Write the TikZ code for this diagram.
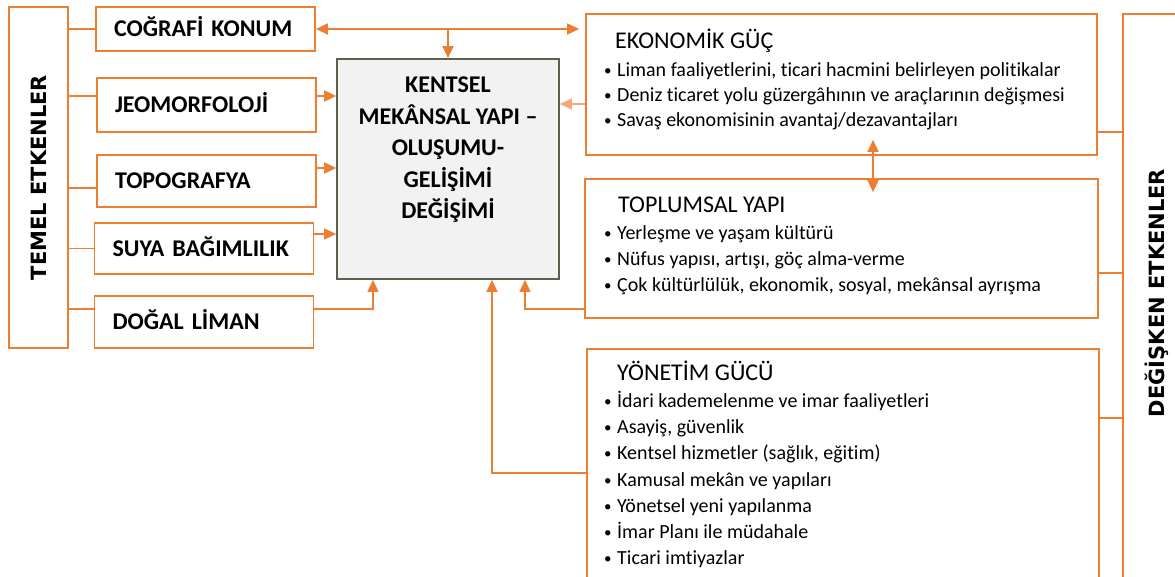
\documentclass[tikz,border=0pt]{standalone}
\usepackage{fontspec}
\setmainfont{Carlito}[Ligatures=CommonOff]
\newfontfamily\sidefont{DejaVu Sans}
\usetikzlibrary{arrows.meta,calc}
\definecolor{kmorange}{RGB}{237,125,49}
\definecolor{kmlight}{RGB}{244,170,120}
\definecolor{kmgray}{RGB}{242,242,242}
\definecolor{kmedge}{RGB}{95,95,80}
\newcommand\kmbul{\makebox[14pt][l]{\hspace{1pt}\raisebox{1pt}{\fontsize{15}{15}\selectfont\textbullet}}}
\tikzset{
  obox/.style={rectangle, draw=kmorange, line width=1.7pt, fill=white, inner sep=0pt},
  lbox/.style={obox, align=left, minimum width=219pt, text width=183pt, inner xsep=18pt,
               font=\bfseries\fontsize{24}{28}\selectfont, text height=15.5pt, text depth=0pt},
  sidetxt/.style={font=\sidefont\bfseries\fontsize{21}{24}\selectfont, text height=15pt, text depth=0pt},
  ktxt/.style={align=center, font=\bfseries\fontsize{24}{31.5}\selectfont},
  otitle/.style={anchor=west, inner sep=0pt, font=\fontsize{24}{28}\selectfont, text height=18pt, text depth=3pt},
  oitem/.style={anchor=west, inner sep=0pt, font=\fontsize{20}{24}\selectfont, text height=14pt, text depth=5pt},
  link/.style={draw=kmorange, line width=1.6pt},
  arr/.style={link, -{Triangle[length=12pt,width=11pt]}},
  arrb/.style={link, {Triangle[length=12pt,width=11pt]}-{Triangle[length=12pt,width=11pt]}},
}
\begin{document}
\begin{tikzpicture}[x=1pt,y=-1pt]
\useasboundingbox (0,0) rectangle (1175,577);
        \node[obox, sidetxt, rotate=90, minimum width=341pt, minimum height=59pt] (temel) at (38.5,177.5) {TEMEL ETKENLER};
        \node[lbox, minimum height=44pt] (cografi) at (205.5,29) {COĞRAFİ KONUM};
        \node[lbox, minimum height=54pt] (jeomorf) at (206.5,105) {JEOMORFOLOJİ};
        \node[lbox, minimum height=52pt] (topog) at (206.5,181) {TOPOGRAFYA};
        \node[lbox, minimum height=51pt, minimum width=218pt] (suya) at (204,248.5) {SUYA BAĞIMLILIK};
        \node[lbox, minimum height=52pt, minimum width=218pt] (liman) at (204,322) {DOĞAL LİMAN};
        \node[obox, draw=kmedge, fill=kmgray, minimum width=222pt, minimum height=220pt] (kentsel) at (448,169) {};
        \node[ktxt] (kentsel-t) at (448,150) {KENTSEL\\MEKÂNSAL YAPI –\\OLUŞUMU-\\GELİŞİMİ\\DEĞİŞİMİ};
        \node[obox, minimum width=511pt, minimum height=141pt] (ekon) at (841.5,84.5) {};
        \node[obox, minimum width=513pt, minimum height=139pt] (toplum) at (841.5,248.5) {};
        \node[obox, minimum width=512pt, minimum height=251pt] (yonetim) at (843,474.5) {};
        \node[obox, minimum width=77pt, minimum height=586pt] (degisken) at (1161.5,307) {};
        \node[sidetxt, rotate=90] (degisken-t) at (1157,293) {DEĞİŞKEN ETKENLER};
        \node[otitle] (ekon-t) at (615,41) {EKONOMİK GÜÇ};
        \foreach \txt [count=\i from 0] in {{Liman faaliyetlerini, ticari hacmini belirleyen politikalar},
            {Deniz ticaret yolu güzergâhının ve araçlarının değişmesi},
            {Savaş ekonomisinin avantaj/dezavantajları}}
          \node[oitem] (ekon-\i) at (603,{72+25*\i}) {\kmbul\txt};
        \node[otitle] (toplum-t) at (618,205) {TOPLUMSAL YAPI};
        \foreach \txt [count=\i from 0] in {{Yerleşme ve yaşam kültürü},
            {Nüfus yapısı, artışı, göç alma-verme},
            {Çok kültürlülük, ekonomik, sosyal, mekânsal ayrışma}}
          \node[oitem] (toplum-\i) at (603,{235+26*\i}) {\kmbul\txt};
        \node[otitle] (yonetim-t) at (617,373) {YÖNETİM GÜCÜ};
        \foreach \txt [count=\i from 0] in {{İdari kademelenme ve imar faaliyetleri},
            {Asayiş, güvenlik},
            {Kentsel hizmetler (sağlık, eğitim)},
            {Kamusal mekân ve yapıları},
            {Yönetsel yeni yapılanma},
            {İmar Planı ile müdahale},
            {Ticari imtiyazlar}}
          \node[oitem] (yonetim-\i) at (603,{403+26.2*\i}) {\kmbul\txt};
        \draw[link] (cografi.west -| temel.south) -- (cografi.west);
        \draw[link] ([yshift=9pt]jeomorf.west -| temel.south) -- ([yshift=9pt]jeomorf.west);
        \draw[link] ([yshift=-7pt]topog.west -| temel.south) -- ([yshift=-7pt]topog.west);
        \draw[link] (suya.west -| temel.south) -- (suya.west);
        \draw[link] ([yshift=13pt]liman.west -| temel.south) -- ([yshift=13pt]liman.west);
        \draw[arr] ([yshift=9pt]jeomorf.east) -- ([yshift=9pt]jeomorf.east -| kentsel.west);
        \draw[arr] ([yshift=13pt]topog.east) -- ([yshift=13pt]topog.east -| kentsel.west);
        \draw[arr] ([yshift=14.5pt]suya.east) -- ([yshift=14.5pt]suya.east -| kentsel.west);
        \draw[arr] ([yshift=13pt]liman.east) -| ([xshift=-75pt]kentsel.south);
        \draw[arrb, shorten >=6pt] (cografi.east) -- (cografi.east -| ekon.west);
        \coordinate (ust) at (cografi.east -| kentsel.north);
        \draw[arr] (ust) -- (kentsel.north);
        \draw[arr, draw=kmlight] ([yshift=-19.5pt]ekon.west) -- ([yshift=-19.5pt]ekon.west -| kentsel.east);
        \draw[arr] ([yshift=-60.5pt]toplum.west) -| ([xshift=77pt]kentsel.south);
        \draw[arr] ([yshift=1.5pt]yonetim.west) -| ([xshift=44pt]kentsel.south);
        \draw[arrb] ([xshift=31.5pt,yshift=16pt]ekon.south) -- ([xshift=31.5pt,yshift=-14pt]toplum.north);
        \draw[link] ([yshift=-47.5pt]ekon.east) -- ([yshift=-47.5pt]ekon.east -| degisken.west);
        \draw[link] ([yshift=-24.5pt]toplum.east) -- ([yshift=-24.5pt]toplum.east -| degisken.west);
        \draw[link] ([yshift=56.5pt]yonetim.east) -- ([yshift=56.5pt]yonetim.east -| degisken.west);
\end{tikzpicture}
\end{document}
